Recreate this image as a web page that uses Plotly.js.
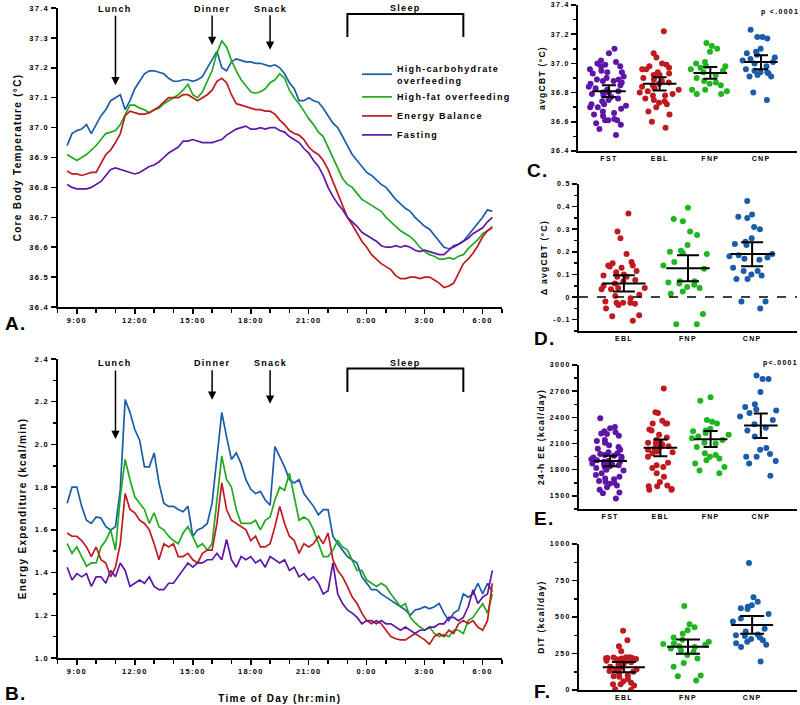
<!DOCTYPE html>
<html>
<head>
<meta charset="utf-8">
<script src="https://cdn.plot.ly/plotly-3.0.1.min.js"></script>
<style>
  html, body { margin: 0; padding: 0; background: #fff; }
  #chart { width: 800px; height: 705px; }
  svg text { letter-spacing: 1.3px; }
</style>
</head>
<body>
<div id="chart"></div>
<script>
// ---------- time grid (hours since midnight of day 1) ----------
const hours = [8.5,8.75,
  9,9.25,9.5,9.75, 10,10.25,10.5,10.75, 11,11.25,11.5,11.75, 12,12.25,12.5,12.75,
  13,13.25,13.5,13.75, 14,14.25,14.5,14.75, 15,15.25,15.5,15.75, 16,16.25,16.5,16.75,
  17,17.25,17.5,17.75, 18,18.25,18.5,18.75, 19,19.25,19.5,19.75, 20,20.25,20.5,20.75,
  21,21.25,21.5,21.75, 22,22.25,22.5,22.75, 23,23.25,23.5,23.75, 24,24.25,24.5,24.75,
  25,25.25,25.5,25.75, 26,26.25,26.5,26.75, 27,27.25,27.5,27.75, 28,28.25,28.5,28.75,
  29,29.25,29.5,29.75, 30,30.25,30.5];
const timeTickHours = [9,12,15,18,21,24,27,30];
const timeTickLabels = ['9:00','12:00','15:00','18:00','21:00','0:00','3:00','6:00'];

const seriesNames = ['High-carbohydrate<br>overfeeding','High-fat overfeeding','Energy Balance','Fasting'];
const seriesColors = ['#1b5ca8','#1faa1f','#bf1a1f','#5e16a8'];

// ---------- Panel A: core body temperature (°C) ----------
const cbtCarb = [36.94,36.98,
  36.99,36.995,37.01,36.98, 37.01,37.04,37.06,37.09, 37.10,37.11,37.06,37.09, 37.13,37.155,37.18,37.19,
  37.19,37.185,37.18,37.165, 37.155,37.155,37.16,37.16, 37.155,37.16,37.17,37.20, 37.23,37.255,37.20,37.19,
  37.22,37.23,37.225,37.22, 37.22,37.215,37.215,37.21, 37.205,37.21,37.20,37.18, 37.15,37.13,37.09,37.09,
  37.10,37.09,37.085,37.065, 37.04,37.015,37.00,36.97, 36.94,36.91,36.89,36.87, 36.85,36.84,36.825,36.81,
  36.80,36.78,36.76,36.745, 36.73,36.72,36.70,36.685, 36.67,36.66,36.64,36.62, 36.60,36.595,36.60,36.61,
  36.62,36.64,36.66,36.68, 36.70,36.725,36.72];
const cbtFat = [36.91,36.90,
  36.89,36.90,36.91,36.925, 36.94,36.96,36.98,36.985, 36.99,37.01,37.04,37.075, 37.075,37.065,37.06,37.05,
  37.06,37.065,37.08,37.09, 37.10,37.11,37.125,37.145, 37.11,37.10,37.12,37.155, 37.19,37.25,37.29,37.27,
  37.225,37.19,37.16,37.14, 37.12,37.115,37.12,37.13, 37.15,37.16,37.18,37.165, 37.125,37.10,37.08,37.055,
  37.03,37.01,36.985,36.97, 36.935,36.90,36.86,36.83, 36.81,36.80,36.78,36.76, 36.75,36.74,36.73,36.72,
  36.70,36.685,36.67,36.655, 36.645,36.635,36.62,36.60, 36.585,36.575,36.57,36.56, 36.56,36.565,36.56,36.57,
  36.575,36.595,36.61,36.625, 36.645,36.655,36.67];
const cbtEB = [36.855,36.845,
  36.845,36.84,36.845,36.85, 36.85,36.88,36.91,36.925, 36.95,36.98,37.04,37.055, 37.05,37.045,37.045,37.05,
  37.06,37.07,37.085,37.10, 37.10,37.10,37.11,37.11, 37.10,37.09,37.10,37.11, 37.125,37.155,37.165,37.15,
  37.11,37.08,37.075,37.07, 37.065,37.06,37.06,37.055, 37.055,37.045,37.025,37.01, 36.99,36.98,36.975,36.96,
  36.935,36.92,36.91,36.89, 36.86,36.82,36.78,36.735, 36.70,36.675,36.645,36.62, 36.60,36.575,36.56,36.545,
  36.535,36.525,36.505,36.495, 36.495,36.50,36.50,36.495, 36.50,36.50,36.49,36.48, 36.465,36.47,36.48,36.515,
  36.545,36.56,36.58,36.605, 36.635,36.655,36.665];
const cbtFast = [36.81,36.80,
  36.795,36.795,36.795,36.80, 36.81,36.82,36.84,36.86, 36.865,36.86,36.855,36.85, 36.845,36.85,36.86,36.87,
  36.875,36.885,36.90,36.915, 36.925,36.935,36.955,36.955, 36.96,36.955,36.95,36.95, 36.95,36.955,36.96,36.975,
  36.985,36.995,37.00,37.005, 36.995,36.995,37.00,36.995, 37.00,37.00,36.99,36.985, 36.97,36.96,36.95,36.93,
  36.915,36.89,36.87,36.84, 36.80,36.77,36.745,36.725, 36.70,36.685,36.67,36.65, 36.64,36.63,36.62,36.605,
  36.60,36.60,36.605,36.60, 36.605,36.60,36.59,36.585, 36.59,36.585,36.58,36.575, 36.575,36.59,36.605,36.61,
  36.62,36.63,36.645,36.655, 36.665,36.685,36.70];

// ---------- Panel B: energy expenditure (kcal/min) ----------
const eeCarb = [1.725,1.80,
  1.80,1.71,1.645,1.63, 1.66,1.655,1.615,1.60, 1.615,1.79,2.21,2.15, 2.07,2.02,1.895,1.895,
  1.96,1.82,1.725,1.71, 1.71,1.695,1.685,1.71, 1.57,1.60,1.61,1.63, 1.725,1.94,2.15,2.035,
  1.93,1.96,1.91,1.835, 1.79,1.77,1.78,1.74, 1.715,1.99,1.94,1.895, 1.835,1.82,1.835,1.77,
  1.74,1.71,1.67,1.695, 1.695,1.57,1.535,1.505, 1.475,1.46,1.445,1.38, 1.35,1.32,1.32,1.30,
  1.285,1.27,1.255,1.24, 1.225,1.20,1.225,1.23, 1.24,1.23,1.24,1.255, 1.21,1.175,1.21,1.225,
  1.30,1.285,1.30,1.35, 1.30,1.35,1.31];
const eeFat = [1.535,1.49,
  1.52,1.475,1.43,1.445, 1.445,1.52,1.55,1.60, 1.505,1.755,1.93,1.835, 1.755,1.725,1.695,1.63,
  1.68,1.615,1.60,1.57, 1.55,1.535,1.585,1.615, 1.57,1.52,1.535,1.505, 1.535,1.755,1.945,1.835,
  1.80,1.695,1.63,1.63, 1.63,1.645,1.60,1.645, 1.66,1.74,1.80,1.785, 1.865,1.755,1.645,1.66,
  1.645,1.60,1.535,1.475, 1.475,1.505,1.55,1.52, 1.505,1.46,1.41,1.41, 1.365,1.35,1.335,1.35,
  1.335,1.30,1.27,1.24, 1.255,1.19,1.165,1.145, 1.13,1.145,1.115,1.10, 1.11,1.10,1.13,1.13,
  1.115,1.175,1.19,1.225, 1.255,1.21,1.30];
const eeEB = [1.585,1.57,
  1.57,1.55,1.52,1.475, 1.52,1.46,1.445,1.38, 1.425,1.535,1.77,1.695, 1.68,1.645,1.63,1.60,
  1.535,1.46,1.535,1.52, 1.535,1.475,1.475,1.49, 1.46,1.445,1.49,1.505, 1.505,1.63,1.82,1.695,
  1.645,1.63,1.615,1.60, 1.55,1.57,1.52,1.52, 1.535,1.615,1.71,1.63, 1.57,1.55,1.49,1.535,
  1.52,1.535,1.57,1.535, 1.585,1.46,1.41,1.38, 1.335,1.285,1.255,1.21, 1.175,1.16,1.175,1.16,
  1.13,1.10,1.09,1.085, 1.085,1.10,1.115,1.10, 1.085,1.065,1.10,1.115, 1.10,1.13,1.115,1.16,
  1.175,1.16,1.175,1.145, 1.13,1.175,1.35];
const eeFast = [1.425,1.365,
  1.395,1.38,1.395,1.335, 1.38,1.38,1.35,1.41, 1.38,1.445,1.41,1.335, 1.35,1.365,1.35,1.38,
  1.335,1.32,1.32,1.35, 1.35,1.38,1.41,1.445, 1.425,1.445,1.445,1.46, 1.46,1.49,1.46,1.555,
  1.46,1.425,1.475,1.46, 1.475,1.445,1.46,1.425, 1.475,1.46,1.445,1.46, 1.41,1.425,1.38,1.395,
  1.365,1.38,1.35,1.30, 1.315,1.445,1.30,1.255, 1.225,1.21,1.19,1.16, 1.175,1.175,1.16,1.175,
  1.16,1.16,1.145,1.13, 1.145,1.13,1.115,1.13, 1.13,1.145,1.145,1.16, 1.16,1.19,1.19,1.175,
  1.19,1.24,1.32,1.255, 1.285,1.30,1.41];

// ---------- Right panels: group labels ----------
const groups4 = ['FST','EBL','FNP','CNP'];
const groups3 = ['EBL','FNP','CNP'];
const colors4 = ['#5e16a8','#bf1a1f','#1fb51f','#1b5ca8'];
const colors3 = ['#bf1a1f','#1fb51f','#1b5ca8'];

// Panel C: avgCBT (°C)
const avgCBT_FST = [37.10,37.07,37.02,37.01,37.00,36.99,36.98,36.98,36.96,36.95,36.94,36.94,36.93,36.91,36.90,36.89,36.89,36.88,36.88,36.87,36.86,36.85,36.84,36.83,36.82,36.81,36.80,36.80,36.79,36.78,36.77,36.76,36.75,36.74,36.72,36.72,36.71,36.70,36.70,36.69,36.67,36.66,36.65,36.64,36.62,36.61,36.61,36.61,36.59,36.58,36.55,36.51];
const avgCBT_EBL = [37.22,37.07,37.04,37.00,36.99,36.98,36.97,36.96,36.96,36.94,36.93,36.92,36.92,36.90,36.89,36.88,36.87,36.86,36.85,36.84,36.83,36.82,36.81,36.80,36.79,36.78,36.78,36.76,36.75,36.74,36.73,36.72,36.70,36.67,36.65,36.60,36.56];
const avgCBT_FNP = [37.14,37.12,37.10,37.08,37.01,37.00,36.98,36.98,36.97,36.96,36.95,36.94,36.92,36.90,36.88,36.87,36.86,36.85,36.82,36.82,36.81,36.79,36.79];
const avgCBT_CNP = [37.23,37.18,37.18,37.17,37.10,37.08,37.07,37.06,37.04,37.03,37.02,37.01,37.00,36.98,36.96,36.95,36.94,36.94,36.93,36.92,36.91,36.91,36.80,36.75];
const avgCBT_mean = [36.81,36.86,36.935,37.01];
const avgCBT_ciLow = [36.77,36.815,36.895,36.96];
const avgCBT_ciHigh = [36.85,36.905,36.975,37.055];

// Panel D: Δ avgCBT (°C)
const dCBT_EBL = [0.37,0.29,0.26,0.19,0.155,0.15,0.14,0.14,0.135,0.13,0.115,0.11,0.10,0.095,0.09,0.09,0.075,0.07,0.06,0.05,0.04,0.04,0.035,0.035,0.01,0.005,-0.005,-0.02,-0.025,-0.025,-0.025,-0.03,-0.035,-0.05,-0.08,-0.085,-0.105];
const dCBT_FNP = [0.395,0.345,0.335,0.29,0.275,0.23,0.205,0.20,0.195,0.19,0.155,0.14,0.125,0.07,0.07,0.065,0.06,0.055,0.045,0.04,0.025,0.015,-0.075,-0.12,-0.12];
const dCBT_CNP = [0.425,0.365,0.355,0.35,0.31,0.30,0.26,0.245,0.235,0.23,0.19,0.185,0.18,0.175,0.17,0.165,0.13,0.115,0.115,0.10,0.095,0.08,0.08,-0.02,-0.02,-0.05];
const dCBT_mean = [0.06,0.128,0.19];
const dCBT_ciLow = [0.025,0.07,0.136];
const dCBT_ciHigh = [0.097,0.185,0.242];
const dCBT_tickVals = [-0.1,0,0.1,0.2,0.3,0.4,0.5];
const dCBT_tickText = ['-0.1','0','0.1','0.2','0.3','0.4','0.5'];

// Panel E: 24-h EE (kcal/day)
const ee24_FST = [2390,2290,2275,2240,2230,2215,2210,2190,2140,2130,2110,2080,2060,2040,2030,2000,1990,1980,1970,1960,1950,1940,1930,1920,1910,1900,1895,1890,1880,1870,1860,1860,1850,1840,1830,1820,1800,1790,1760,1740,1720,1700,1690,1670,1660,1650,1640,1620,1600,1570,1540,1530,1470];
const ee24_EBL = [2730,2460,2450,2360,2330,2330,2330,2260,2250,2200,2170,2140,2120,2110,2100,2090,2070,2060,2040,2030,2010,2000,1990,1950,1880,1850,1830,1820,1760,1720,1660,1620,1610,1610,1580,1570,1570];
const ee24_FNP = [2630,2590,2370,2350,2330,2270,2250,2240,2220,2200,2180,2160,2140,2110,2100,2060,1990,1970,1950,1930,1910,1870,1830,1790,1760];
const ee24_CNP = [2880,2840,2840,2690,2550,2520,2490,2480,2450,2410,2370,2320,2280,2250,2180,2050,2030,1980,1950,1950,1900,1870,1730];
const ee24_mean = [1901,2051,2149,2306];
const ee24_ciLow = [1841,1954,2059,2164];
const ee24_ciHigh = [1961,2145,2243,2445];

// Panel F: DIT (kcal/day)
const dit_EBL = [405,340,300,265,225,225,222,220,220,218,215,212,210,205,200,198,195,190,180,175,160,150,140,135,130,125,115,100,95,90,75,60,50,40,40,30,5,0];
const dit_FNP = [575,450,430,410,385,360,345,330,320,315,310,300,295,285,270,260,240,215,185,160,100,95,65];
const dit_CNP = [870,635,605,580,570,560,555,520,490,470,420,400,380,375,370,360,350,340,330,320,310,295,195];
const dit_mean = [156,296,446];
const dit_ciLow = [122,248,385];
const dit_ciHigh = [191,346,506];

// ---------- build ----------
const FONT = 'Liberation Sans, Arial, sans-serif';
const traces = [];

const cbtSeries = [cbtCarb, cbtFat, cbtEB, cbtFast];
const eeSeries = [eeCarb, eeFat, eeEB, eeFast];
cbtSeries.forEach((s, i) => traces.push({
  type: 'scatter', mode: 'lines', x: hours, y: s, name: seriesNames[i],
  line: {color: seriesColors[i], width: 1.7}, xaxis: 'x', yaxis: 'y', hoverinfo: 'skip'
}));
eeSeries.forEach((s, i) => traces.push({
  type: 'scatter', mode: 'lines', x: hours, y: s, name: seriesNames[i], showlegend: false,
  line: {color: seriesColors[i], width: 1.7}, xaxis: 'x2', yaxis: 'y2', hoverinfo: 'skip'
}));

function dotPanel(groupsData, colors, mean, lo, hi, ax, meanSize, capW) {
  groupsData.forEach((vals, i) => traces.push({
    type: 'box', x0: i, y: vals, boxpoints: 'all', jitter: 1, pointpos: 0, width: 0.85,
    marker: {color: colors[i], size: 6}, line: {width: 0}, fillcolor: 'rgba(0,0,0,0)',
    xaxis: 'x' + ax, yaxis: 'y' + ax, showlegend: false, hoverinfo: 'skip'
  }));
  traces.push({
    type: 'scatter', mode: 'markers', x: mean.map((_, i) => i), y: mean, showlegend: false,
    marker: {symbol: 'line-ew', size: meanSize, color: '#000', line: {color: '#000', width: 2}},
    error_y: {type: 'data', symmetric: false,
      array: mean.map((m, i) => hi[i] - m), arrayminus: mean.map((m, i) => m - lo[i]),
      color: '#000', thickness: 2, width: capW},
    xaxis: 'x' + ax, yaxis: 'y' + ax, hoverinfo: 'skip'
  });
}
dotPanel([avgCBT_FST, avgCBT_EBL, avgCBT_FNP, avgCBT_CNP], colors4, avgCBT_mean, avgCBT_ciLow, avgCBT_ciHigh, 3, 24, 7);
dotPanel([dCBT_EBL, dCBT_FNP, dCBT_CNP], colors3, dCBT_mean, dCBT_ciLow, dCBT_ciHigh, 4, 31, 11);
dotPanel([ee24_FST, ee24_EBL, ee24_FNP, ee24_CNP], colors4, ee24_mean, ee24_ciLow, ee24_ciHigh, 5, 24, 7);
dotPanel([dit_EBL, dit_FNP, dit_CNP], colors3, dit_mean, dit_ciLow, dit_ciHigh, 6, 30, 12);

const tickFontBig = {family: FONT, size: 7.5, color: '#000', weight: 'bold'};
const tickFontSmall = {family: FONT, size: 7, color: '#000', weight: 'bold'};

function baseAxis(extra) {
  return Object.assign({
    showline: true, linecolor: '#000', linewidth: 2, showgrid: false, zeroline: false,
    ticks: 'outside', tickcolor: '#000', tickwidth: 1.5, ticklen: 5, fixedrange: true
  }, extra);
}

const pxX = v => v / 800;
const pxY = v => 1 - v / 705;

const layout = {
  width: 800, height: 705,
  margin: {l: 0, r: 0, t: 0, b: 0},
  paper_bgcolor: '#fff', plot_bgcolor: 'rgba(0,0,0,0)',
  font: {family: FONT, size: 8, color: '#000', weight: 'bold'},
  showlegend: true,
  legend: {x: pxX(357), y: pxY(56), xanchor: 'left', yanchor: 'top', bgcolor: 'rgba(0,0,0,0)',
    font: {family: FONT, size: 9, color: '#000', weight: 'bold'}, tracegroupgap: 0},
  // Panel A
  xaxis: baseAxis({domain: [pxX(57.5), pxX(502)], range: [8, 31], anchor: 'y',
    tickmode: 'array', tickvals: timeTickHours, ticktext: timeTickLabels, tickfont: tickFontBig,
    minor: {dtick: 1, tick0: 8, ticks: 'outside', ticklen: 4, tickcolor: '#000', tickwidth: 1.5}}),
  yaxis: baseAxis({domain: [pxY(307), pxY(8)], range: [36.4, 37.4], anchor: 'x',
    dtick: 0.1, tick0: 36.4, tickformat: '.1f', tickfont: tickFontBig,
    title: {text: 'Core Body Temperature (°C)', font: {family: FONT, size: 10, weight: 'bold'}, standoff: 6}}),
  // Panel B
  xaxis2: baseAxis({domain: [pxX(57.5), pxX(502)], range: [8, 31], anchor: 'y2',
    tickmode: 'array', tickvals: timeTickHours, ticktext: timeTickLabels, tickfont: tickFontBig,
    minor: {dtick: 1, tick0: 8, ticks: 'outside', ticklen: 4, tickcolor: '#000', tickwidth: 1.5},
    title: {text: 'Time of Day (hr:min)', font: {family: FONT, size: 10, weight: 'bold'}, standoff: 20}}),
  yaxis2: baseAxis({domain: [pxY(658), pxY(359)], range: [1.0, 2.4], anchor: 'x2',
    dtick: 0.2, tick0: 1.0, tickformat: '.1f', tickfont: tickFontBig,
    minor: {dtick: 0.1, ticks: 'outside', ticklen: 3, tickcolor: '#000', tickwidth: 1.5},
    title: {text: 'Energy Expenditure (kcal/min)', font: {family: FONT, size: 10, weight: 'bold'}, standoff: 6}}),
  // Panel C
  xaxis3: baseAxis({domain: [pxX(578), pxX(797)], range: [-0.61, 3.71], anchor: 'y3', ticks: '',
    tickmode: 'array', tickvals: [0,1,2,3], ticktext: groups4, tickfont: tickFontSmall}),
  yaxis3: baseAxis({domain: [pxY(151), pxY(5)], range: [36.4, 37.4], anchor: 'x3',
    dtick: 0.2, tick0: 36.4, tickformat: '.1f', tickfont: tickFontSmall, ticklen: 5,
    minor: {dtick: 0.1, ticks: 'outside', ticklen: 3, tickcolor: '#000', tickwidth: 1.5},
    title: {text: 'avgCBT (°C)', font: {family: FONT, size: 8.5, weight: 'bold'}, standoff: 4}}),
  // Panel D
  xaxis4: baseAxis({domain: [pxX(579), pxX(797)], range: [-0.7, 2.7], anchor: 'y4', ticks: '',
    tickmode: 'array', tickvals: [0,1,2], ticktext: groups3, tickfont: tickFontSmall}),
  yaxis4: baseAxis({domain: [pxY(331), pxY(184)], range: [-0.15, 0.5], anchor: 'x4',
    tickmode: 'array', tickvals: dCBT_tickVals, ticktext: dCBT_tickText, tickfont: tickFontSmall,
    minor: {dtick: 0.05, tick0: 0, ticks: 'outside', ticklen: 3, tickcolor: '#000', tickwidth: 1.5},
    title: {text: 'Δ avgCBT (°C)', font: {family: FONT, size: 8.5, weight: 'bold'}, standoff: 4}}),
  // Panel E
  xaxis5: baseAxis({domain: [pxX(579), pxX(797)], range: [-0.62, 3.72], anchor: 'y5', ticks: '',
    tickmode: 'array', tickvals: [0,1,2,3], ticktext: groups4, tickfont: tickFontSmall}),
  yaxis5: baseAxis({domain: [pxY(509), pxY(365)], range: [1350, 3000], anchor: 'x5',
    dtick: 300, tick0: 1500, tickfont: tickFontSmall,
    minor: {dtick: 150, tick0: 1500, ticks: 'outside', ticklen: 3, tickcolor: '#000', tickwidth: 1.5},
    title: {text: '24-h EE (kcal/day)', font: {family: FONT, size: 8.5, weight: 'bold'}, standoff: 4}}),
  // Panel F
  xaxis6: baseAxis({domain: [pxX(579), pxX(797)], range: [-0.7, 2.7], anchor: 'y6', ticks: '',
    tickmode: 'array', tickvals: [0,1,2], ticktext: groups3, tickfont: tickFontSmall}),
  yaxis6: baseAxis({domain: [pxY(690), pxY(544)], range: [0, 1000], anchor: 'x6',
    dtick: 250, tick0: 0, tickfont: tickFontSmall,
    minor: {dtick: 125, tick0: 0, ticks: 'outside', ticklen: 3, tickcolor: '#000', tickwidth: 1.5},
    title: {text: 'DIT (kcal/day)', font: {family: FONT, size: 8.5, weight: 'bold'}, standoff: 4}}),
  shapes: [
    {type: 'path', xref: 'x', yref: 'y', path: 'M23,37.303 L23,37.38 L29,37.38 L29,37.303',
      line: {color: '#000', width: 2}},
    {type: 'path', xref: 'x2', yref: 'y2', path: 'M23,2.245 L23,2.355 L29,2.355 L29,2.245',
      line: {color: '#000', width: 2}},
    {type: 'line', xref: 'x4 domain', yref: 'y4', x0: 0, x1: 1, y0: 0, y1: 0,
      line: {color: '#000', width: 1.5, dash: 'dash'}}
  ],
  annotations: []
};

const ann = layout.annotations;
const lblFont = {family: FONT, size: 9, color: '#000', weight: 'bold'};
// meal / sleep labels (panel A & B)
const mealHours = [11, 16, 19];
const mealLabels = ['Lunch', 'Dinner', 'Snack'];
const tipA = [37.142, 37.276, 37.26];
const tailA = [-71, -31, -36];
const tipB = [2.025, 2.209, 2.19];
const tailB = [-70, -31, -35];
mealHours.forEach((h, i) => {
  ann.push({xref: 'x', yref: 'paper', x: h, y: pxY(9), text: mealLabels[i], showarrow: false, font: lblFont,
    xanchor: 'center', yanchor: 'middle'});
  ann.push({xref: 'x', yref: 'y', x: h, y: tipA[i], ax: 0, ay: tailA[i], text: '', showarrow: true,
    arrowhead: 2, arrowsize: 1.1, arrowwidth: 1.5, arrowcolor: '#000', standoff: 0});
  ann.push({xref: 'x2', yref: 'paper', x: h, y: pxY(363), text: mealLabels[i], showarrow: false, font: lblFont,
    xanchor: 'center', yanchor: 'middle'});
  ann.push({xref: 'x2', yref: 'y2', x: h, y: tipB[i], ax: 0, ay: tailB[i], text: '', showarrow: true,
    arrowhead: 2, arrowsize: 1.1, arrowwidth: 1.5, arrowcolor: '#000', standoff: 0});
});
const sleepMid = 26;
ann.push({xref: 'x', yref: 'paper', x: sleepMid, y: pxY(8), text: 'Sleep', showarrow: false, font: lblFont,
  xanchor: 'center', yanchor: 'middle'});
ann.push({xref: 'x2', yref: 'paper', x: sleepMid, y: pxY(363), text: 'Sleep', showarrow: false, font: lblFont,
  xanchor: 'center', yanchor: 'middle'});
// p-values
ann.push({xref: 'paper', yref: 'paper', x: pxX(780), y: pxY(12), text: 'p <.0001', showarrow: false,
  xanchor: 'center', yanchor: 'middle', font: {family: FONT, size: 7, color: '#000', weight: 'bold'}});
ann.push({xref: 'paper', yref: 'paper', x: pxX(780), y: pxY(363), text: 'p<.0001', showarrow: false,
  xanchor: 'center', yanchor: 'middle', font: {family: FONT, size: 7, color: '#000', weight: 'bold'}});
// panel letters
const panelLetters = [['A.', 3, 323], ['B.', 3, 693], ['C.', 525, 170], ['D.', 532, 339], ['E.', 532, 518], ['F.', 532, 691]];
panelLetters.forEach(p => ann.push({xref: 'paper', yref: 'paper', x: pxX(p[1]), y: pxY(p[2]), text: p[0],
  showarrow: false, xanchor: 'left', yanchor: 'middle', font: {family: FONT, size: 19, color: '#000', weight: 'bold'}}));

Plotly.newPlot('chart', traces, layout, {staticPlot: true, displayModeBar: false});
</script>
</body>
</html>
